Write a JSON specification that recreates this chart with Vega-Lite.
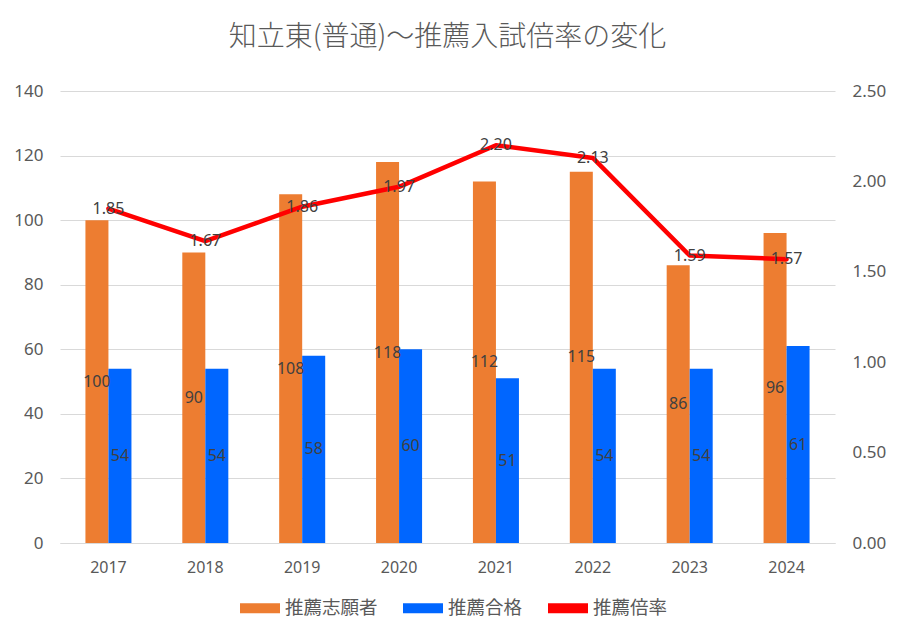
{
  "$schema": "https://vega.github.io/schema/vega-lite/v6.json",
  "autosize": {"type": "none"},
  "width": 775,
  "height": 452,
  "padding": {"left": 60, "top": 91, "right": 65, "bottom": 97},
  "background": "#ffffff",
  "title": {
    "text": "知立東(普通)～推薦入試倍率の変化",
    "font": "Noto Sans CJK JP",
    "fontSize": 28,
    "fontWeight": 300,
    "color": "#595959",
    "anchor": "middle",
    "offset": 30
  },
  "datasets": {
    "bars": [
      {"year": "2017", "series": "推薦志願者", "value": 100},
      {"year": "2017", "series": "推薦合格", "value": 54},
      {"year": "2018", "series": "推薦志願者", "value": 90},
      {"year": "2018", "series": "推薦合格", "value": 54},
      {"year": "2019", "series": "推薦志願者", "value": 108},
      {"year": "2019", "series": "推薦合格", "value": 58},
      {"year": "2020", "series": "推薦志願者", "value": 118},
      {"year": "2020", "series": "推薦合格", "value": 60},
      {"year": "2021", "series": "推薦志願者", "value": 112},
      {"year": "2021", "series": "推薦合格", "value": 51},
      {"year": "2022", "series": "推薦志願者", "value": 115},
      {"year": "2022", "series": "推薦合格", "value": 54},
      {"year": "2023", "series": "推薦志願者", "value": 86},
      {"year": "2023", "series": "推薦合格", "value": 54},
      {"year": "2024", "series": "推薦志願者", "value": 96},
      {"year": "2024", "series": "推薦合格", "value": 61}
    ],
    "ratio": [
      {"year": "2017", "ratio": 1.85},
      {"year": "2018", "ratio": 1.67},
      {"year": "2019", "ratio": 1.86},
      {"year": "2020", "ratio": 1.97},
      {"year": "2021", "ratio": 2.20},
      {"year": "2022", "ratio": 2.13},
      {"year": "2023", "ratio": 1.59},
      {"year": "2024", "ratio": 1.57}
    ]
  },
  "config": {
    "font": "Noto Sans",
    "view": {"stroke": null},
    "axis": {"labelColor": "#595959", "labelFontSize": 16, "ticks": false, "domain": false, "title": null}
  },
  "resolve": {"scale": {"y": "independent"}},
  "layer": [
    {
      "data": {"name": "bars"},
      "mark": {"type": "bar"},
      "encoding": {
        "x": {
          "field": "year", "type": "ordinal",
          "scale": {"paddingInner": 0.525, "paddingOuter": 0.2625},
          "axis": {"labelAngle": 0, "domain": true, "domainColor": "#d9d9d9", "labelPadding": 16, "labelFontSize": 16}
        },
        "xOffset": {"field": "series", "type": "nominal", "scale": {"domain": ["推薦志願者", "推薦合格"], "padding": 0}},
        "y": {
          "field": "value", "type": "quantitative",
          "scale": {"domain": [0, 140], "nice": false},
          "axis": {"orient": "left", "values": [0, 20, 40, 60, 80, 100, 120, 140], "grid": true, "gridColor": "#d9d9d9", "labelPadding": 17, "labelFontSize": 17}
        },
        "color": {
          "field": "series", "type": "nominal",
          "scale": {"domain": ["推薦志願者", "推薦合格", "推薦倍率"], "range": ["#ED7D31", "#0066FF", "#FF0000"]},
          "legend": {
            "orient": "none", "legendX": 180, "legendY": 497, "direction": "horizontal",
            "title": null, "symbolType": "M-1,-0.25H1V0.25H-1Z", "symbolSize": 1600,
            "symbolStrokeWidth": 0, "symbolOpacity": 1,
            "labelFont": "Noto Sans CJK JP", "labelFontSize": 18.5, "labelColor": "#595959",
            "columnPadding": 25, "labelOffset": 5, "padding": 0
          }
        }
      }
    },
    {
      "data": {"name": "bars"},
      "mark": {"type": "text", "fontSize": 16, "color": "#404040", "baseline": "middle"},
      "encoding": {
        "x": {"field": "year", "type": "ordinal"},
        "xOffset": {"field": "series", "type": "nominal"},
        "y": {"field": "value", "type": "quantitative", "scale": {"domain": [0, 280], "nice": false}, "axis": null},
        "text": {"field": "value", "type": "quantitative"}
      }
    },
    {
      "data": {"name": "ratio"},
      "encoding": {
        "x": {"field": "year", "type": "ordinal"},
        "y": {
          "field": "ratio", "type": "quantitative",
          "scale": {"domain": [0, 2.5], "nice": false},
          "axis": {"orient": "right", "values": [0, 0.5, 1, 1.5, 2, 2.5], "format": ".2f", "grid": false, "labelPadding": 17, "labelFontSize": 17}
        }
      },
      "layer": [
        {"mark": {"type": "line", "color": "#FF0000", "strokeWidth": 4.5, "strokeCap": "round", "strokeJoin": "round"}},
        {
          "mark": {"type": "text", "fontSize": 16, "color": "#404040", "baseline": "middle"},
          "encoding": {"text": {"field": "ratio", "type": "quantitative", "format": ".2f"}}
        }
      ]
    }
  ]
}
